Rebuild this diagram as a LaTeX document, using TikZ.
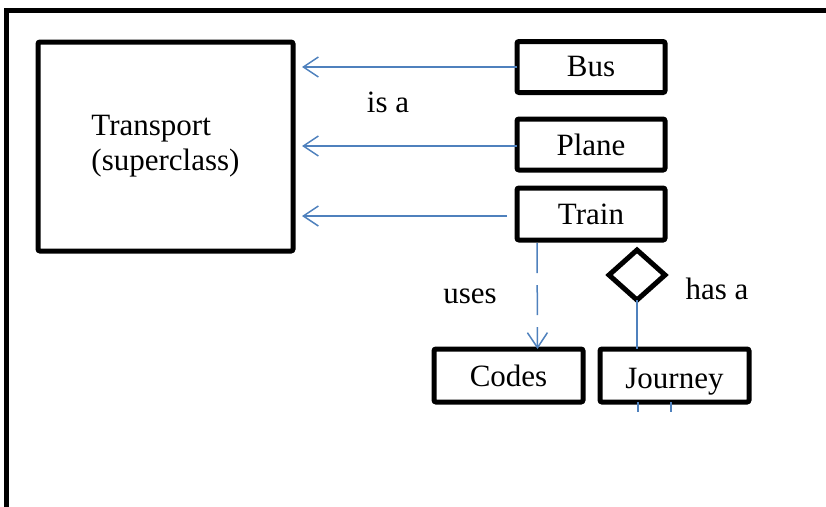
\documentclass[tikz,border=0pt]{standalone}
\usepackage{fontspec}
\setmainfont{Liberation Serif}
\usetikzlibrary{arrows.meta,shapes.geometric,positioning}
\definecolor{linkblue}{RGB}{79,129,189}

\begin{document}
\begin{tikzpicture}[x=1pt, y=-1pt,
    every node/.style={font=\fontsize{31}{35}\selectfont, outer sep=0pt},
    classbox/.style={draw, line width=5pt, rounded corners=2pt, inner sep=0pt,
      minimum width=148pt, minimum height=51pt},
    link/.style={draw=linkblue, line width=1.5pt},
    isa/.style={link, -{Straight Barb[length=15pt, width=20pt]}, shorten >=9pt},
  ]
  \useasboundingbox (0,0) rectangle (826,506);
  \draw[line width=5pt] (6,510) -- (6,10) -- (830,10);

  % classes
  \node[classbox, minimum width=255pt, minimum height=209pt, align=left] (transport)
    at (165.5,146.5) {Transport\\(superclass)};
  \node[classbox] (bus) at (591,67) {Bus};
  \node[classbox] (plane) at (591,144.5) {Plane};
  \node[classbox, minimum height=52pt] (train) at (591,214) {Train};
  \node[classbox, minimum width=149pt, minimum height=53pt] (codes) at (508.5,375.5) {Codes};
  \node[classbox, minimum width=149pt, minimum height=53pt] (journey) at (674.5,375.5)
    {\raisebox{-6pt}[\height][\depth]{Journey}};
  \node[diamond, draw, line width=5pt, inner sep=0pt, minimum width=56pt,
    minimum height=50pt] (agg) at (637,275) {};

  % relations
  \draw[isa] (bus.west) -- (bus.west -| transport.east);
  \draw[isa] ([yshift=-1.5pt]plane.west) -- ([yshift=-1.5pt]plane.west -| transport.east);
  \draw[isa, shorten <=10pt] ([yshift=-2pt]train.west) -- ([yshift=-2pt]train.west -| transport.east);
  \draw[link, dash pattern=on 30pt off 12pt, shorten <=3pt,
    -{Straight Barb[length=15pt, width=20pt]}]
    ([xshift=-54pt]train.south) -- ([xshift=29pt]codes.north);
  \draw[link] (agg.south) -- (agg.south |- journey.north);
  \coordinate (j1) at (638,412);
  \coordinate (j2) at (671,412);
  \draw[link] (j1 |- journey.south) -- (j1);
  \draw[link] (j2 |- journey.south) -- (j2);

  % labels
  \node[anchor=base] (isalbl) at (388,112) {is a};
  \node[anchor=base] (useslbl) at (470,303) {uses};
  \node[anchor=base] (hasalbl) at (717,299) {has a};
\end{tikzpicture}
\end{document}
